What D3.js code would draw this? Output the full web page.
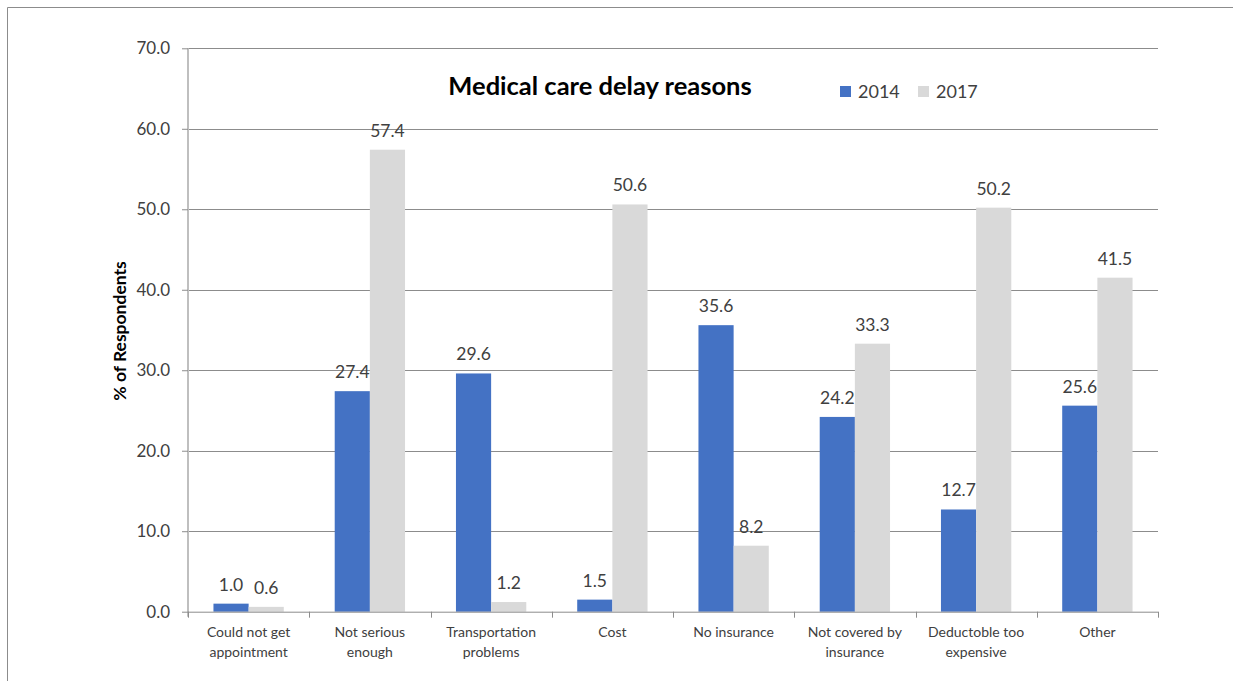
<!DOCTYPE html>
<html><head><meta charset="utf-8">
<script src="https://cdn.jsdelivr.net/npm/d3@7"></script>
<style>body{margin:0;background:#fff}svg{display:block}text{font-family:Lato,"Open Sans",sans-serif}</style>
</head><body><svg id="c" width="1238" height="681"></svg>
<script>
const categories = [["Could not get","appointment"],["Not serious","enough"],["Transportation","problems"],["Cost"],["No insurance"],["Not covered by","insurance"],["Deductoble too","expensive"],["Other"]];
const series2014 = [1.0,27.4,29.6,1.5,35.6,24.2,12.7,25.6];
const series2017 = [0.6,57.4,1.2,50.6,8.2,33.3,50.2,41.5];
const seriesNames = ["2014","2017"];
const yTicks = [0,10,20,30,40,50,60,70];

const svg = d3.select("#c");
const colors = ["#4472c4","#d9d9d9"];
// frame
svg.append("line").attr("x1",7.5).attr("x2",1233).attr("y1",7.5).attr("y2",7.5).attr("stroke","#8c8c8c");
svg.append("line").attr("x1",7.5).attr("x2",7.5).attr("y1",7.5).attr("y2",681).attr("stroke","#8c8c8c");

const L=188, R=1158, T=48.3, B=611.7;
const x = d3.scaleBand().domain(d3.range(categories.length)).range([L,R]).paddingInner(0.42).paddingOuter(0.21);
const y = d3.scaleLinear().domain([0,70]).range([B,T]);
const xs = d3.scaleBand().domain([0,1]).range([0,x.bandwidth()]);

// gridlines
svg.append("g").selectAll("line").data(yTicks.filter(d=>d>0)).join("line")
  .attr("x1",L).attr("x2",R).attr("y1",d=>Math.round(y(d))+0.5).attr("y2",d=>Math.round(y(d))+0.5)
  .attr("stroke","#8c8c8c").attr("stroke-width",1);

// y axis
const ya = svg.append("g").attr("transform",`translate(${L},0)`)
  .call(d3.axisLeft(y).tickValues(yTicks).tickFormat(d3.format(".1f")).tickSize(6).tickPadding(12));
ya.select(".domain").attr("stroke","#bfbfbf").attr("stroke-width",2).attr("d",`M0,${T}V${B+5}`);
ya.selectAll(".tick line").attr("stroke","#8c8c8c");
ya.selectAll(".tick text").attr("font-size",17).attr("fill","#404040").attr("font-family","Lato,'Open Sans',sans-serif");

// bars
const data = categories.map((c,i)=>({i, vals:[series2014[i],series2017[i]]}));
const g = svg.append("g").selectAll("g").data(data).join("g").attr("transform",d=>`translate(${x(d.i)},0)`);
g.selectAll("rect").data(d=>d.vals.map((v,k)=>({v,k}))).join("rect")
  .attr("x",d=>xs(d.k)).attr("width",xs.bandwidth()).attr("y",d=>y(d.v)).attr("height",d=>B-y(d.v)).attr("fill",d=>colors[d.k]);
g.selectAll("text").data(d=>d.vals.map((v,k)=>({v,k}))).join("text")
  .attr("x",d=>xs(d.k)+xs.bandwidth()/2).attr("y",d=>y(d.v)-13).attr("text-anchor","middle")
  .attr("font-size",17.5).attr("fill","#404040").text(d=>d.v.toFixed(1));

// x axis
const step = (R-L)/categories.length;
const xa = svg.append("g");
xa.append("line").attr("x1",L).attr("x2",R).attr("y1",B+0.5).attr("y2",B+0.5).attr("stroke","#8c8c8c");
xa.selectAll(".tk").data(d3.range(categories.length+1)).join("line").attr("class","tk")
  .attr("x1",d=>Math.round(L+d*step)+0.5).attr("x2",d=>Math.round(L+d*step)+0.5).attr("y1",B).attr("y2",B+6).attr("stroke","#8c8c8c");
xa.selectAll("text").data(categories.map((c,i)=>({c,i}))).join("text")
  .attr("x",d=>x(d.i)+x.bandwidth()/2).attr("y",637).attr("text-anchor","middle")
  .attr("font-size",14).attr("fill","#404040")
  .each(function(d){const t=d3.select(this);d.c.forEach((line,j)=>t.append("tspan").attr("x",x(d.i)+x.bandwidth()/2).attr("dy",j?20:0).text(line));});

// y title
svg.append("text").attr("transform","translate(126,331) rotate(-90)").attr("text-anchor","middle")
  .attr("font-size",17.5).attr("font-weight","bold").attr("fill","#000").text("% of Respondents");

// title
svg.append("text").attr("x",600).attr("y",95).attr("text-anchor","middle").attr("font-size",25.5).attr("font-weight","bold").attr("fill","#000").text("Medical care delay reasons");

// legend
const lg = svg.append("g").selectAll("g").data(seriesNames).join("g").attr("transform",(d,i)=>`translate(${840+i*78},0)`);
lg.append("rect").attr("x",0).attr("y",86).attr("width",11).attr("height",11).attr("fill",(d,i)=>colors[i]);
lg.append("text").attr("x",18).attr("y",98).attr("font-size",18).attr("fill","#404040").text(d=>d);
</script></body></html>
